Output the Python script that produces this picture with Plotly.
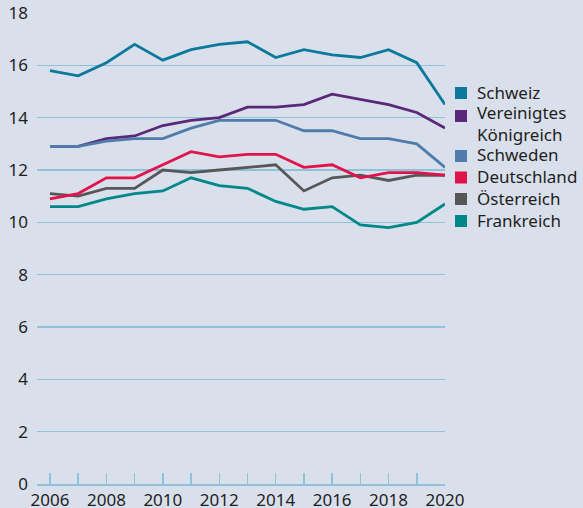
import plotly.graph_objects as go

years = list(range(2006, 2021))

series_names = ["Schweiz", "Vereinigtes Königreich", "Schweden", "Deutschland", "Österreich", "Frankreich"]
series_colors = ["#0b789c", "#5a2878", "#4f7cab", "#e2124b", "#575757", "#00878a"]

schweiz = [15.8, 15.6, 16.1, 16.8, 16.2, 16.6, 16.8, 16.9, 16.3, 16.6, 16.4, 16.3, 16.6, 16.1, 14.5]
vereinigtes_koenigreich = [12.9, 12.9, 13.2, 13.3, 13.7, 13.9, 14.0, 14.4, 14.4, 14.5, 14.9, 14.7, 14.5, 14.2, 13.6]
schweden = [12.9, 12.9, 13.1, 13.2, 13.2, 13.6, 13.9, 13.9, 13.9, 13.5, 13.5, 13.2, 13.2, 13.0, 12.1]
deutschland = [10.9, 11.1, 11.7, 11.7, 12.2, 12.7, 12.5, 12.6, 12.6, 12.1, 12.2, 11.7, 11.9, 11.9, 11.8]
oesterreich = [11.1, 11.0, 11.3, 11.3, 12.0, 11.9, 12.0, 12.1, 12.2, 11.2, 11.7, 11.8, 11.6, 11.8, 11.8]
frankreich = [10.6, 10.6, 10.9, 11.1, 11.2, 11.7, 11.4, 11.3, 10.8, 10.5, 10.6, 9.9, 9.8, 10.0, 10.7]

series_values = [schweiz, vereinigtes_koenigreich, schweden, deutschland, oesterreich, frankreich]
# draw order (bottom to top)
draw_order = [0, 1, 2, 4, 3, 5]

y_ticks = [0, 2, 4, 6, 8, 10, 12, 14, 16, 18]
x_tick_labels = [str(y) for y in range(2006, 2021, 2)]
legend_labels = ["Schweiz", "Vereinigtes<br>Königreich", "Schweden", "Deutschland", "Österreich", "Frankreich"]

W, H = 583, 508
ML, MR, MT, MB = 37, 138, 13, 24
PW = W - ML - MR
PH = H - MT - MB

BG = "#d9e0eb"
GRID = "#8ec2da"
FONT = "Noto Sans"
TXT = "#1e1e1e"

fig = go.Figure()
for i in draw_order:
    fig.add_trace(go.Scatter(
        x=years, y=series_values[i], mode="lines", name=series_names[i],
        line=dict(color=series_colors[i], width=2.8), showlegend=False,
        hoverinfo="skip",
    ))

fig.update_layout(
    width=W, height=H,
    margin=dict(l=ML, r=MR, t=MT, b=MB, pad=0, autoexpand=False),
    paper_bgcolor=BG, plot_bgcolor=BG,
    font=dict(family=FONT, size=17, color=TXT),
    showlegend=False,
)
fig.update_xaxes(
    range=[2005.54, 2020], tickmode="array", tickvals=list(range(2006, 2021, 2)),
    ticktext=x_tick_labels, ticks="inside", ticklen=11, tickcolor=GRID, tickwidth=1.5,
    showline=True, linecolor=GRID, linewidth=1.5, showgrid=False, zeroline=False,
    minor=dict(tickvals=list(range(2007, 2021, 2)), ticks="inside", ticklen=11,
               tickcolor=GRID, tickwidth=1.5, showgrid=False),
    ticklabelstandoff=0, automargin=False,
    tickfont=dict(family=FONT, size=17, color=TXT),
)
fig.update_yaxes(
    range=[0, 18], tickmode="array", tickvals=y_ticks,
    showgrid=True, gridcolor=GRID, gridwidth=1.5, zeroline=False, showline=False,
    ticks="", ticklabelstandoff=8, automargin=False,
    tickfont=dict(family=FONT, size=17, color=TXT),
)

def px_x(px):
    return (px - ML) / PW

def px_y(py):
    return (H - MB - py) / PH

# legend (manual, right side)
square_centers = [93, 116, 156, 177.5, 199, 221]
label_centers = [92.5, 123.4, 154.5, 176, 198.5, 220]
for i, name in enumerate(series_names):
    cy = square_centers[i]
    fig.add_shape(type="rect", xref="paper", yref="paper",
                  x0=px_x(455), x1=px_x(467), y0=px_y(cy + 6), y1=px_y(cy - 6),
                  fillcolor=series_colors[i], line=dict(width=0))
    fig.add_annotation(xref="paper", yref="paper", x=px_x(476), y=px_y(label_centers[i]),
                       xanchor="left", yanchor="middle", align="left",
                       text=legend_labels[i], showarrow=False,
                       font=dict(family=FONT, size=17, color=TXT), borderpad=0)

fig.write_html("out.html", config={"displayModeBar": False, "staticPlot": True},
               post_script="document.body.style.margin='0';document.body.style.overflow='hidden';")
